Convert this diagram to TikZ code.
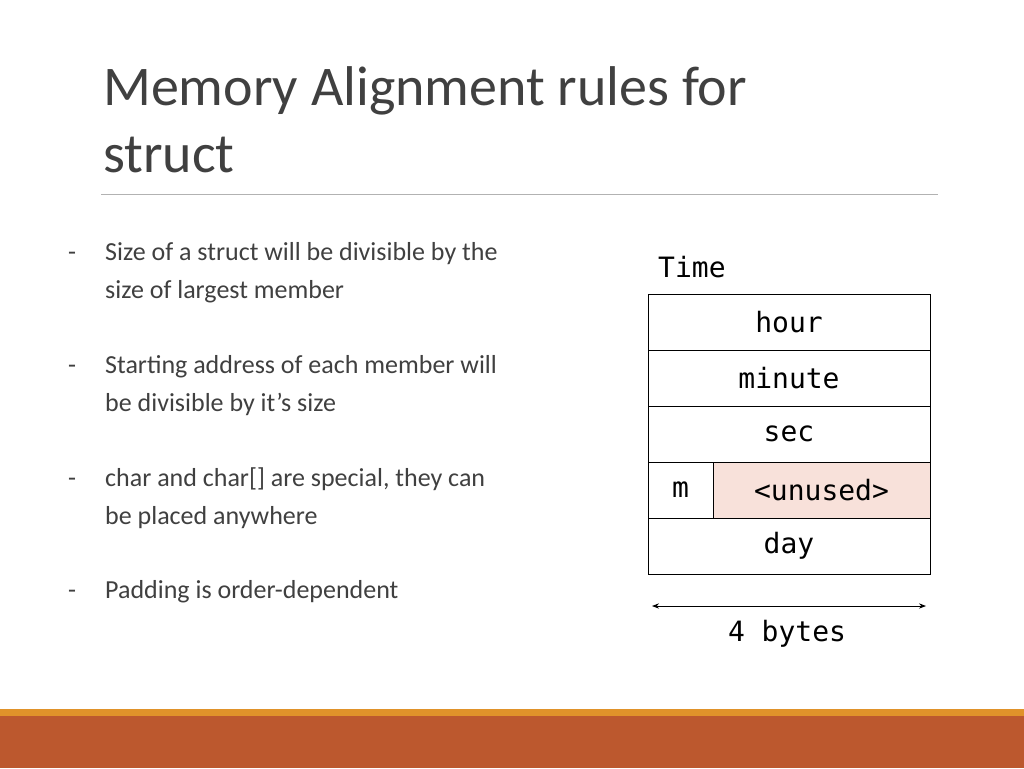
\documentclass[tikz,border=0pt]{standalone}
\usepackage{fontspec}
\usetikzlibrary{arrows.meta}
\setmainfont{Carlito}
\setmonofont{DejaVu Sans Mono}
\definecolor{txt}{HTML}{404040}
\definecolor{barA}{HTML}{E0922A}
\definecolor{barB}{HTML}{BC582E}
\definecolor{pinkc}{HTML}{F8E1DA}
\begin{document}
\begin{tikzpicture}[x=1pt,y=-1pt,
  bul/.style={anchor=base west,inner sep=0,font=\fontsize{26}{38}\selectfont,text=txt},
  cell/.style={draw=black,line width=1pt,minimum height=56pt,inner sep=0,font=\ttfamily\fontsize{28}{30}\selectfont},
]
\useasboundingbox (0,0) rectangle (1024,768);
\fill[white] (0,0) rectangle (1024,768);
\node[anchor=base west,inner sep=0,text=txt,font=\fontsize{56}{60}\selectfont] (t1) at (103,105) {Memory Alignment rules for};
\node[anchor=base west,inner sep=0,text=txt,font=\fontsize{56}{60}\selectfont] (t2) at (103,172) {struct};
\draw[gray!60,line width=0.8pt] (101,194) -- (938,194);
\foreach \y/\s in {260/Size of a struct will be divisible by the,298/size of largest member,373/Starting address of each member will,411/be divisible by it’s size,486/{char and char[] are special, they can},524/be placed anywhere,598/Padding is order-dependent}{
  \node[bul] at (105,\y) {\s};}
\foreach \y [count=\i] in {260,373,486,598}{\node[bul] (d\i) at (68,\y) {-};}
\node[anchor=base west,inner sep=0,font=\ttfamily\fontsize{28}{30}\selectfont] (time) at (658,277) {Time};
\node[cell,minimum width=282pt] (hour) at (789,322) {hour};
\node[cell,minimum width=282pt] (minute) at (789,378) {minute};
\node[cell,minimum width=282pt] (sec) at (789,434) {sec};
\node[cell,minimum width=65pt] (m) at (680.5,490) {m};
\node[cell,minimum width=217pt,fill=pinkc] (unused) at (821.5,490) {<unused>};
\node[cell,minimum width=282pt] (day) at (789,546) {day};
\coordinate (al) at (652,606);
\coordinate (ar) at (926,606);
\draw[{Stealth[length=7pt]}-{Stealth[length=7pt]},line width=0.8pt] (al) -- (ar);
\node[font=\ttfamily\fontsize{28}{30}\selectfont,anchor=base] (bytes) at (787,641) {4 bytes};
\fill[barA] (0,709) rectangle (1024,716);
\fill[barB] (0,716) rectangle (1024,768);
\end{tikzpicture}
\end{document}
